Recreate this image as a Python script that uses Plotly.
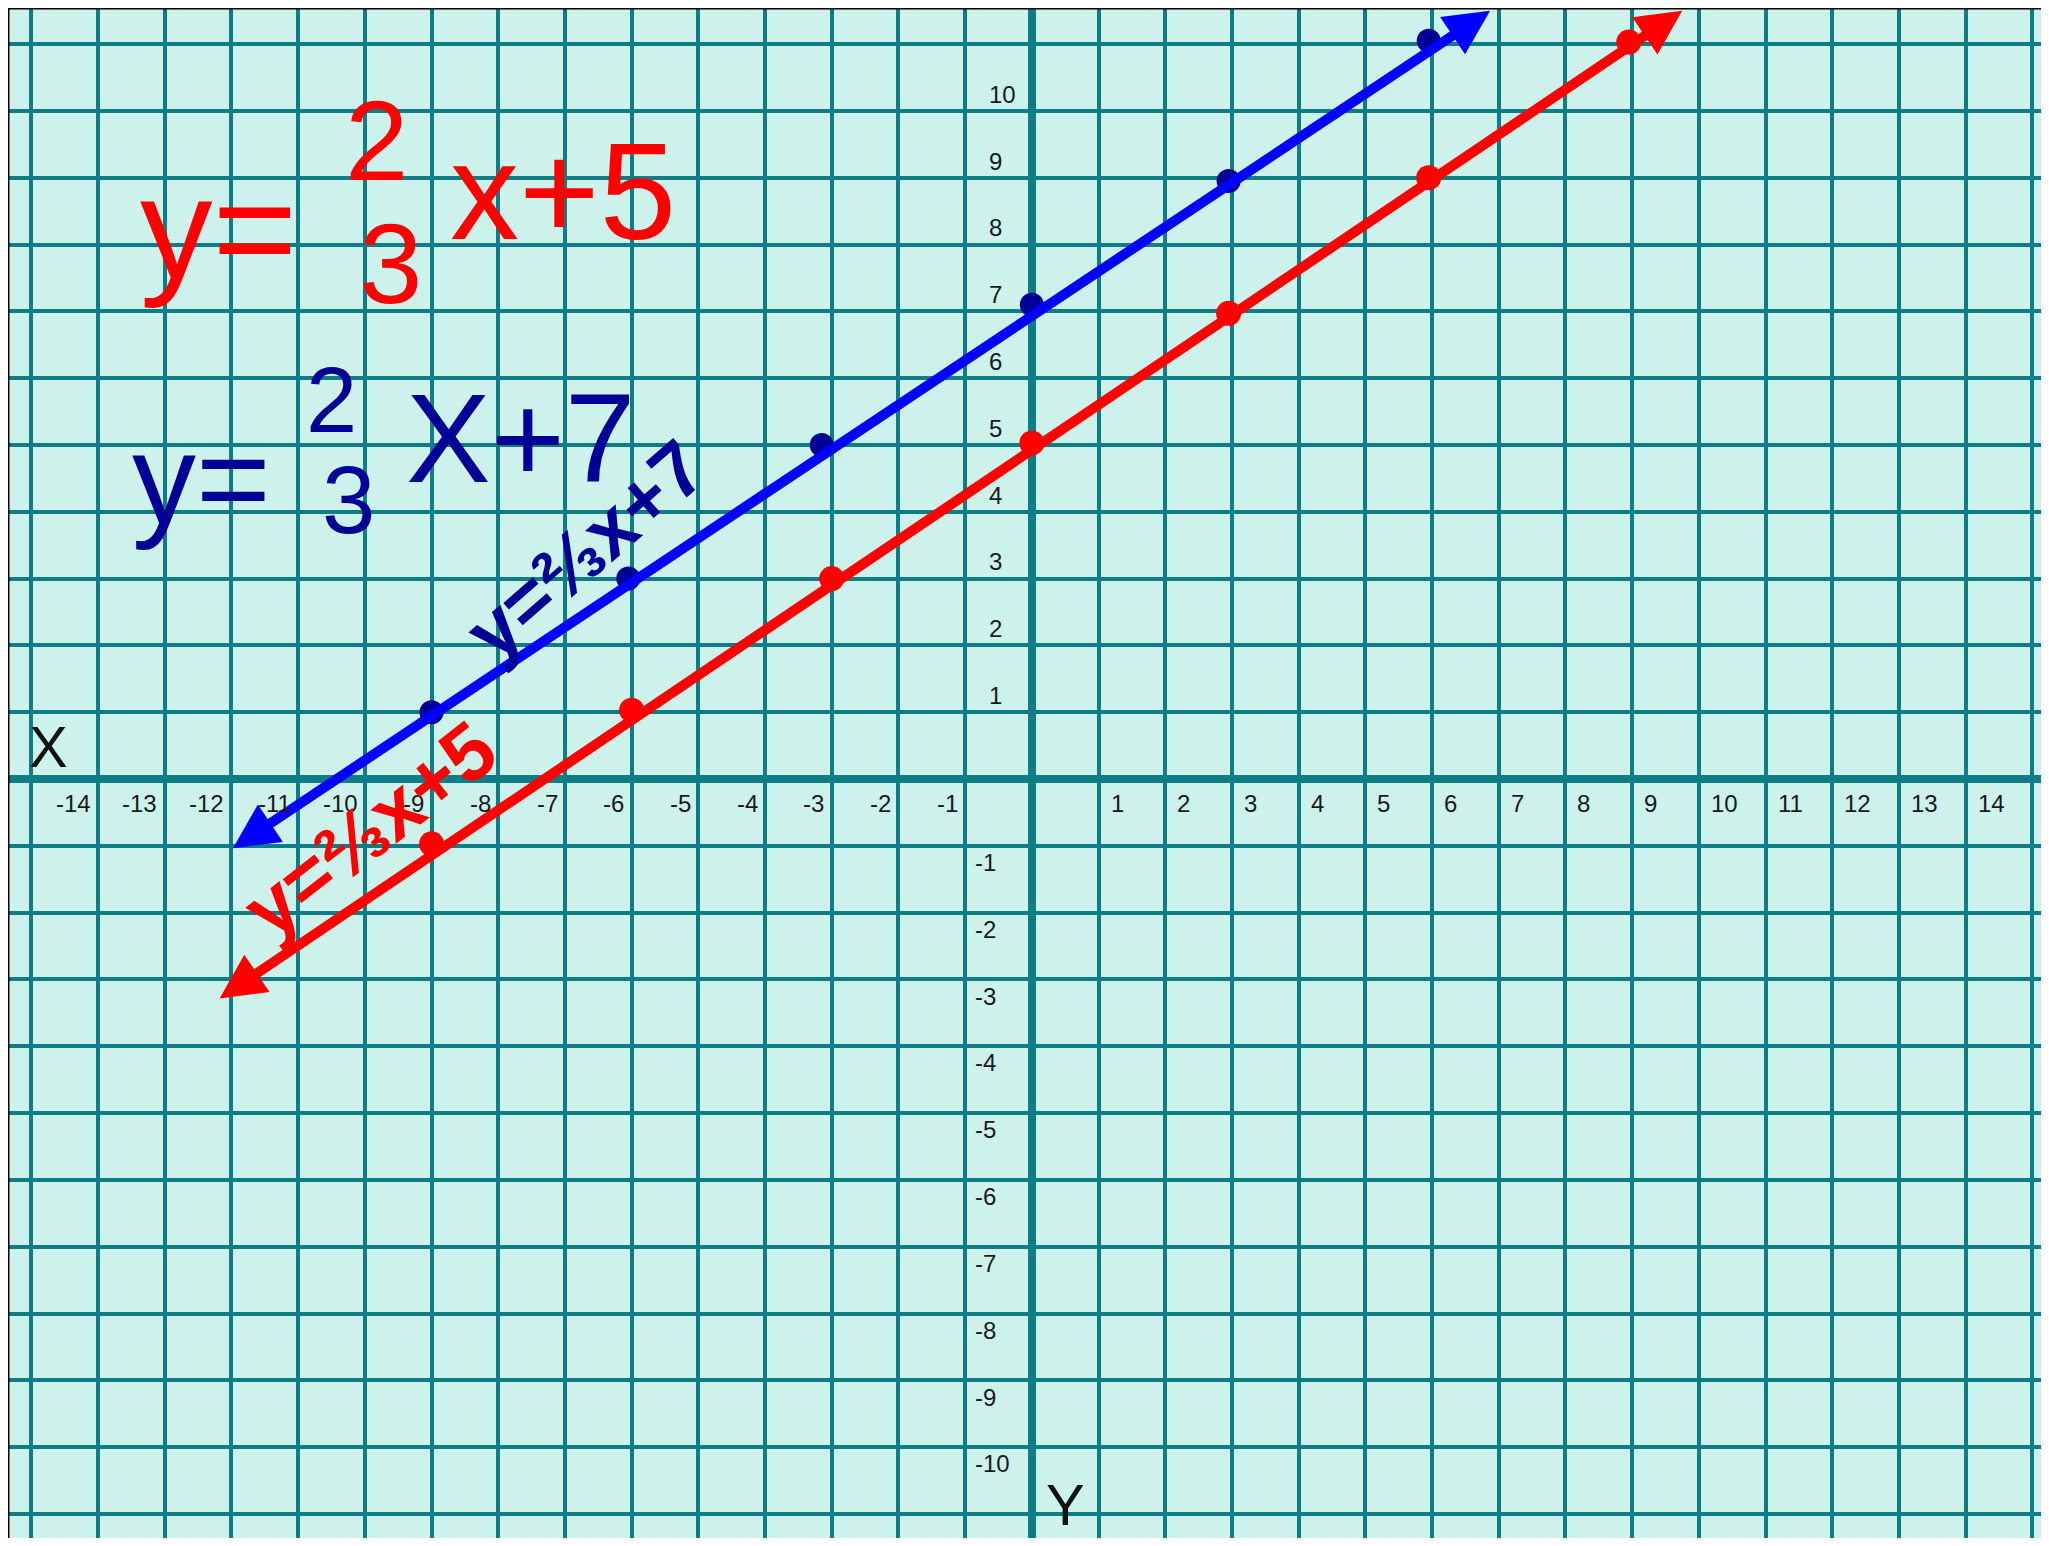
import plotly.graph_objects as go

# tick labels written on the board
x_tick_vals = [-14, -13, -12, -11, -10, -9, -8, -7, -6, -5, -4, -3, -2, -1,
               1, 2, 3, 4, 5, 6, 7, 8, 9, 10, 11, 12, 13, 14]
y_tick_vals = [-10, -9, -8, -7, -6, -5, -4, -3, -2, -1,
               1, 2, 3, 4, 5, 6, 7, 8, 9, 10]

# y = 2/3 x + 7 (blue), ends are the arrow tips
blue_line_x = [-12.0, 6.87]
blue_line_y = [-1.05, 11.5]
blue_dot_x = [-9.0, -6.05, -3.15, 0.0, 2.95, 5.95]
blue_dot_y = [1.0, 3.0, 5.0, 7.1, 8.95, 11.05]

# y = 2/3 x + 5 (red)
red_line_x = [-12.2, 9.75]
red_line_y = [-3.3, 11.5]
red_dot_x = [-9.0, -6.0, -3.0, 0.0, 2.95, 5.95, 8.95]
red_dot_y = [-0.97, 1.03, 3.0, 5.03, 6.97, 9.0, 11.03]

BG = "#CCF2EB"
GRID = "#0E7D85"
RED = "#FF0000"
BLUE = "#0000FF"
NAVY = "#000096"
HAND = "Liberation Sans, Arial, sans-serif"

fig = go.Figure()

fig.add_trace(go.Scatter(
    x=blue_dot_x, y=blue_dot_y, mode="markers",
    marker=dict(color=NAVY, size=24), hoverinfo="skip",
))
fig.add_trace(go.Scatter(
    x=red_dot_x, y=red_dot_y, mode="markers",
    marker=dict(color=RED, size=25), hoverinfo="skip",
))

annotations = []

# the two lines, arrow at both ends
for lx, ly, col in [(blue_line_x, blue_line_y, BLUE), (red_line_x, red_line_y, RED)]:
    annotations.append(dict(
        x=lx[1], y=ly[1], ax=lx[0], ay=ly[0],
        xref="x", yref="y", axref="x", ayref="y",
        text="", showarrow=True, arrowside="end+start",
        arrowhead=2, startarrowhead=2,
        arrowsize=0.9, startarrowsize=0.9,
        arrowwidth=10, arrowcolor=col, standoff=0, startstandoff=0,
    ))

tick_font = dict(family="Liberation Sans, Arial, sans-serif", size=24, color="#1a1a1a")
for v in x_tick_vals:
    annotations.append(dict(
        x=v + 0.15 if v > 0 else v - 0.08, y=-0.37,
        xref="x", yref="y", text=str(v), showarrow=False,
        xanchor="left" if v > 0 else "right", yanchor="middle", font=tick_font,
    ))
for v in y_tick_vals:
    annotations.append(dict(
        x=-0.67 if v > 0 else -0.88, y=v + 0.25 if v > 0 else v - 0.25,
        xref="x", yref="y", text=str(v), showarrow=False,
        xanchor="left", yanchor="middle", font=tick_font,
    ))

# axis letters
axis_font = dict(family="Liberation Sans, Arial, sans-serif", size=58, color="#111111")
annotations.append(dict(x=-14.75, y=0.48, xref="x", yref="y", text="X",
                        showarrow=False, font=axis_font))
annotations.append(dict(x=0.51, y=-10.86, xref="x", yref="y", text="Y",
                        showarrow=False, font=axis_font))

# handwritten equations
def hand(x, y, s, col, size, angle=0, weight="normal"):
    annotations.append(dict(
        x=x, y=y, xref="x", yref="y", text=s, showarrow=False,
        textangle=angle, font=dict(family=HAND, size=size, color=col, weight=weight),
    ))

hand(-12.2, 8.25, "y=", RED, 145)
hand(-9.82, 9.55, "2", RED, 114)
hand(-9.62, 7.72, "3", RED, 114)
hand(-7.03, 8.8, "x+5", RED, 138)

hand(-12.45, 4.5, "y=", NAVY, 128)
hand(-10.5, 5.68, "2", NAVY, 92)
hand(-10.25, 4.18, "3", NAVY, 96)
hand(-7.66, 5.1, "X+7", NAVY, 127)

hand(-6.7, 3.43, "y=⅔x+7", NAVY, 78, angle=-41, weight="bold")
hand(-9.93, -0.76, "y=⅔x+5", RED, 80, angle=-38, weight="bold")

fig.update_layout(
    width=2041, height=1530,
    margin=dict(l=0, r=0, t=0, b=0),
    paper_bgcolor="white", plot_bgcolor=BG,
    showlegend=False,
    annotations=annotations,
    shapes=[
        dict(type="line", xref="paper", yref="paper", x0=0, x1=1, y0=1, y1=1,
             line=dict(color="black", width=3)),
        dict(type="line", xref="paper", yref="paper", x0=0, x1=0, y0=0, y1=1,
             line=dict(color="black", width=3)),
    ],
)

axis_common = dict(
    dtick=1, tick0=0, showgrid=True, gridcolor=GRID, gridwidth=3.5,
    zeroline=True, zerolinecolor=GRID, zerolinewidth=8,
    showticklabels=False, ticks="", showline=False,
)
fig.update_xaxes(range=[-15.35, 15.25], **axis_common)
fig.update_yaxes(range=[-11.36, 11.54], **axis_common)

fig.write_html("out.html")
